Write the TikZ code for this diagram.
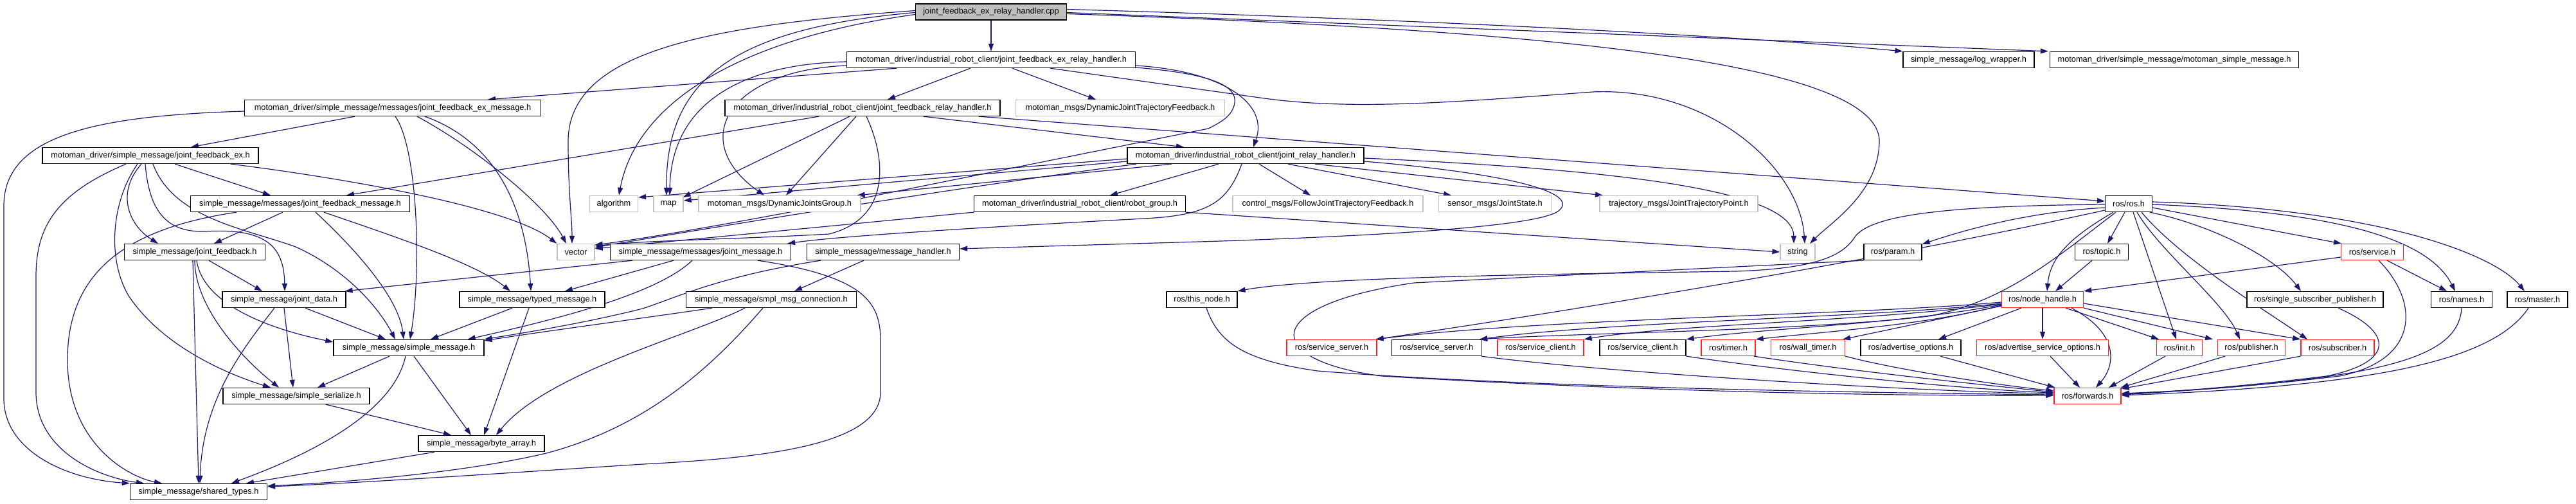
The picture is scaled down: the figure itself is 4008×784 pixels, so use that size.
\documentclass[tikz,border=0pt]{standalone}
\usepackage{fontspec}
\newfontfamily\dfont{Liberation Sans}
\usetikzlibrary{arrows.meta}
\definecolor{edgec}{HTML}{191970}
\definecolor{grayb}{HTML}{BFBFBF}
\definecolor{redb}{HTML}{FF2020}
\pgfdeclarelayer{edges}
\pgfsetlayers{edges,main}
\begin{document}
\begin{tikzpicture}[x=1pt,y=-1pt,
  box/.style={draw=black, line width=1.3pt, fill=white, inner xsep=2pt, inner ysep=0pt,
    minimum height=25pt, font=\dfont\fontsize{12.8pt}{15pt}\selectfont, text=black},
  gbox/.style={box, draw=grayb},
  rbox/.style={box, draw=redb},
  edge/.style={draw=edgec, line width=1.2pt, -{Triangle[length=12pt,width=8pt]}}]
\useasboundingbox (0,0) rectangle (4008,784);
% ---------------- nodes ----------------
\node[box, minimum width=235pt, fill=grayb] (cpp) at (1542,18.5) {joint\_feedback\_ex\_relay\_handler.cpp};
\node[box, minimum width=449pt] (exrh) at (1542,93) {motoman\_driver/industrial\_robot\_client/joint\_feedback\_ex\_relay\_handler.h};
\node[box, minimum width=204pt] (lw) at (3063,93) {simple\_message/log\_wrapper.h};
\node[box, minimum width=387pt] (msm) at (3383,93) {motoman\_driver/simple\_message/motoman\_simple\_message.h};
\node[box, minimum width=461pt] (exmsg) at (611,168) {motoman\_driver/simple\_message/messages/joint\_feedback\_ex\_message.h};
\node[box, minimum width=428pt] (fbrh) at (1342,168) {motoman\_driver/industrial\_robot\_client/joint\_feedback\_relay\_handler.h};
\node[gbox, minimum width=325pt] (djtf) at (1743,168) {motoman\_msgs/DynamicJointTrajectoryFeedback.h};
\node[box, minimum width=336pt] (fbex) at (234,242) {motoman\_driver/simple\_message/joint\_feedback\_ex.h};
\node[box, minimum width=368pt] (jrh) at (1938,242) {motoman\_driver/industrial\_robot\_client/joint\_relay\_handler.h};
\node[box, minimum width=341pt] (fbmsg) at (467,317) {simple\_message/messages/joint\_feedback\_message.h};
\node[gbox, minimum width=75pt] (alg) at (955,317) {algorithm};
\node[gbox, minimum width=46pt] (map) at (1040,317) {map};
\node[gbox, minimum width=252pt] (djg) at (1213,317) {motoman\_msgs/DynamicJointsGroup.h};
\node[box, minimum width=329pt] (rg) at (1680,317) {motoman\_driver/industrial\_robot\_client/robot\_group.h};
\node[gbox, minimum width=296pt] (cmsg) at (2066,317) {control\_msgs/FollowJointTrajectoryFeedback.h};
\node[gbox, minimum width=175pt] (js) at (2326,317) {sensor\_msgs/JointState.h};
\node[gbox, minimum width=246pt] (jtp) at (2612,317) {trajectory\_msgs/JointTrajectoryPoint.h};
\node[box, minimum width=73pt] (ros) at (3312,317) {ros/ros.h};
\node[box, minimum width=219pt] (fb) at (303,392) {simple\_message/joint\_feedback.h};
\node[gbox, minimum width=58pt] (vec) at (896,392) {vector};
\node[box, minimum width=281pt] (jm) at (1090,392) {simple\_message/messages/joint\_message.h};
\node[box, minimum width=237pt] (mh) at (1374,392) {simple\_message/message\_handler.h};
\node[gbox, minimum width=54pt] (str) at (2797,392) {string};
\node[box, minimum width=90pt] (param) at (2945,392) {ros/param.h};
\node[box, minimum width=83pt] (topic) at (3270,392) {ros/topic.h};
\node[rbox, minimum width=97pt] (srv) at (3691,392) {ros/service.h};
\node[box, minimum width=192pt] (jd) at (442,466) {simple\_message/joint\_data.h};
\node[box, minimum width=226pt] (tm) at (828,466) {simple\_message/typed\_message.h};
\node[box, minimum width=265pt] (smc) at (1200,466) {simple\_message/smpl\_msg\_connection.h};
\node[box, minimum width=110pt] (tn) at (1870,466) {ros/this\_node.h};
\node[rbox, minimum width=127pt] (nh) at (3178,466) {ros/node\_handle.h};
\node[box, minimum width=212pt] (ssp) at (3602,466) {ros/single\_subscriber\_publisher.h};
\node[box, minimum width=95pt] (names) at (3830,466) {ros/names.h};
\node[box, minimum width=94pt] (master) at (3948,466) {ros/master.h};
\node[box, minimum width=234pt] (sm) at (636,541) {simple\_message/simple\_message.h};
\node[rbox, minimum width=140pt] (ss1) at (2072,541) {ros/service\_server.h};
\node[box, minimum width=139pt] (ss2) at (2235,541) {ros/service\_server.h};
\node[rbox, minimum width=134pt] (sc1) at (2397,541) {ros/service\_client.h};
\node[box, minimum width=134pt] (sc2) at (2556,541) {ros/service\_client.h};
\node[rbox, minimum width=84pt] (timer) at (2689,541) {ros/timer.h};
\node[rbox, minimum width=115pt] (wt) at (2813,541) {ros/wall\_timer.h};
\node[box, minimum width=156pt] (ao) at (2973,541) {ros/advertise\_options.h};
\node[rbox, minimum width=205pt] (aso) at (3178,541) {ros/advertise\_service\_options.h};
\node[rbox, minimum width=71pt] (init) at (3391,541) {ros/init.h};
\node[rbox, minimum width=105pt] (pub) at (3503,541) {ros/publisher.h};
\node[rbox, minimum width=114pt] (sub) at (3637,541) {ros/subscriber.h};
\node[box, minimum width=228pt] (ser) at (461,616) {simple\_message/simple\_serialize.h};
\node[rbox, minimum width=104pt] (fwd) at (3248,616) {ros/forwards.h};
\node[box, minimum width=196pt] (ba) at (749,690) {simple\_message/byte\_array.h};
\node[box, minimum width=213pt] (st) at (309,765) {simple\_message/shared\_types.h};
% ---------------- edges ----------------
\begin{pgfonlayer}{edges}
\fill[white] (0,0) rectangle (4008,784);
% cpp
\draw[edge] (cpp) -- (exrh);
\draw[edge] ([yshift=2pt]cpp.west) .. controls (1100,40) and (884,80) .. (884,220) .. controls (884,300) and (890,340) .. ([xshift=-6pt]vec.north);
\draw[edge] ([yshift=-4pt]cpp.west) .. controls (1150,60) and (990,160) .. ([xshift=8pt]alg.north);
\draw[edge] ([yshift=-1pt]cpp.west) .. controls (1130,45) and (1036,130) .. ([xshift=-3pt]map.north);
\draw[edge] ([yshift=-3pt]cpp.east) .. controls (2350,45) and (2925,90) .. (2924,220) .. controls (2923,300) and (2850,345) .. ([xshift=19pt]str.north);
\draw[edge] ([yshift=4pt]cpp.east) .. controls (2200,30) and (2700,55) .. (lw.north west);
\draw[edge] ([yshift=-1pt]cpp.east) -- ([xshift=-2pt]msm.north west);
% exrh
\draw[edge] ([xshift=-32pt]exrh.south) -- ([xshift=39pt]fbrh.north);
\draw[edge] ([xshift=33pt]exrh.south) -- ([xshift=-38pt]djtf.north);
\draw[edge] ([xshift=-147pt]exrh.south) -- ([xshift=148pt]exmsg.north);
\draw[edge] ([yshift=-9pt]exrh.east) .. controls (1900,110) and (1975,160) .. ([xshift=12pt]jrh.north);
\draw[edge] ([yshift=-12pt]exrh.east) .. controls (1890,115) and (1925,135) .. (1921,160) .. controls (1918,180) and (1900,190) .. (1880,200) -- (1383,300) .. controls (1200,337) and (1000,372) .. ([yshift=-2pt]vec.north east);
\draw[edge] ([yshift=-3pt]exrh.west) .. controls (1140,100) and (1044,170) .. ([xshift=2pt]map.north);
\draw[edge] ([yshift=-9pt]exrh.west) .. controls (1130,110) and (1070,220) .. ([xshift=-24pt]djg.north);
\draw[edge] ([xshift=92pt]exrh.south) -- (1960,152) .. controls (2100,172) and (2250,160) .. (2478,143) .. controls (2660,135) and (2800,260) .. ([xshift=11pt]str.north);
% fbrh
\draw[edge] ([xshift=-68pt]fbrh.south) -- ([xshift=72pt]fbmsg.north);
\draw[edge] ([xshift=-20pt]fbrh.south) -- ([xshift=-1pt,yshift=-3pt]map.north east);
\draw[edge] ([xshift=-10pt]fbrh.south) -- ([xshift=10pt]djg.north);
\draw[edge] ([xshift=6pt]fbrh.south) .. controls (1380,250) and (1385,340) .. (1290,364) .. controls (1150,372) and (1000,374) .. ([yshift=-4pt]vec.north east);
\draw[edge] ([xshift=95pt]fbrh.south) -- ([xshift=-96pt]jrh.north);
\draw[edge] ([xshift=181pt]fbrh.south) -- ([yshift=4pt]ros.west);
% jrh
\draw[edge] ([yshift=-5pt]jrh.west) -- ([yshift=10pt]alg.east);
\draw[edge] ([yshift=-9pt]jrh.west) -- ([yshift=5pt]map.east);
\draw[edge] ([xshift=-115pt]jrh.south) -- ([xshift=-6pt]djg.north east);
\draw[edge] ([xshift=-170pt]jrh.south) .. controls (1500,290) and (1100,355) .. ([yshift=-6pt]vec.north east);
\draw[edge] ([xshift=-42pt]jrh.south) -- ([xshift=47pt]rg.north);
\draw[edge] ([xshift=21pt]jrh.south) -- ([xshift=-27pt]cmsg.north);
\draw[edge] ([xshift=66pt]jrh.south) -- ([xshift=-68pt]js.north);
\draw[edge] ([xshift=108pt]jrh.south) -- ([xshift=-118pt]jtp.north);
\draw[edge] ([xshift=-6pt]jrh.south) .. controls (1910,315) and (1880,335) .. (1780,340) .. controls (1500,355) and (1300,368) .. ([xshift=-6pt]jm.north east);
\draw[edge] ([yshift=-4pt]jrh.east) .. controls (2550,265) and (2790,300) .. ([xshift=-6pt]str.north);
\draw[edge] ([yshift=-9pt]jrh.east) .. controls (2350,270) and (2460,300) .. (2425,328) .. controls (2390,355) and (2100,368) .. (1900,375) -- ([yshift=5pt]mh.east);
% rg
\draw[edge] (rg.south west) -- ([yshift=-8pt]vec.north east);
\draw[edge] (rg.south east) -- (str.west);
% exmsg
\draw[edge] ([xshift=-59pt]exmsg.south) -- ([xshift=63pt]fbex.north);
\draw[edge] ([xshift=4pt]exmsg.south) .. controls (650,230) and (656,420) .. ([xshift=2pt]sm.north);
\draw[edge] ([xshift=38pt]exmsg.south) .. controls (740,230) and (850,320) .. ([xshift=-15pt]vec.north);
\draw[edge] ([xshift=50pt]exmsg.south) .. controls (770,220) and (818,320) .. ([xshift=-2pt]tm.north);
\draw[edge] ([yshift=-5pt]exmsg.west) .. controls (150,180) and (6,210) .. (6,320) -- (6,620) .. controls (6,700) and (100,745) .. (st.north west);
% fbex
\draw[edge] ([xshift=38pt]fbex.south) -- ([xshift=-46pt]fbmsg.north);
\draw[edge] ([xshift=125pt]fbex.south) .. controls (520,275) and (790,320) .. (vec.north west);
\draw[edge] ([xshift=-38pt]fbex.south) .. controls (90,300) and (56,350) .. (56,430) -- (56,610) .. controls (56,700) and (150,742) .. ([xshift=-85pt]st.north);
\draw[edge] ([xshift=-20pt]fbex.south) .. controls (175,310) and (165,400) .. (200,460) .. controls (260,550) and (380,590) .. ([xshift=-40pt]ser.north);
\draw[edge] ([xshift=-14pt]fbex.south) .. controls (180,300) and (200,350) .. ([xshift=-57pt]fb.north);
\draw[edge] ([xshift=-8pt]fbex.south) .. controls (232,330) and (260,362) .. (320,360) .. controls (410,355) and (442,380) .. ([xshift=1pt]jd.north);
\draw[edge] ([xshift=4pt]fbex.south) .. controls (270,340) and (380,355) .. (460,384) .. controls (540,420) and (590,480) .. ([xshift=-21pt]sm.north);
% fbmsg
\draw[edge] ([xshift=-27pt]fbmsg.south) -- ([xshift=30pt]fb.north);
\draw[edge] ([xshift=-99pt]fbmsg.south) .. controls (200,355) and (105,420) .. (105,560) .. controls (105,690) and (200,742) .. ([xshift=-57pt]st.north);
\draw[edge] ([xshift=24pt]fbmsg.south) .. controls (545,380) and (620,460) .. ([xshift=-8pt]sm.north);
\draw[edge] ([xshift=37pt]fbmsg.south) .. controls (620,370) and (740,410) .. ([xshift=-34pt]tm.north);
% fb
\draw[edge] ([xshift=22pt]fb.south) -- ([xshift=-34pt]jd.north);
\draw[edge] ([xshift=3pt]fb.south) .. controls (315,470) and (410,510) .. ([yshift=9pt]sm.west);
\draw[edge] (fb.south) .. controls (303,480) and (380,560) .. ([xshift=-27pt]ser.north);
\draw[edge] ([xshift=-3pt]fb.south) -- (st.north);
% jd
\draw[edge] ([xshift=33pt]jd.south) -- ([xshift=-36pt]sm.north);
\draw[edge] (jd.south) -- ([xshift=-5pt]ser.north);
\draw[edge] ([xshift=-15pt]jd.south) .. controls (380,540) and (315,620) .. ([xshift=2pt]st.north);
% tm
\draw[edge] ([xshift=-31pt]tm.south) -- ([xshift=34pt]sm.north);
\draw[edge] ([xshift=-5pt]tm.south) -- ([xshift=4pt]ba.north);
% sm, ser, ba
\draw[edge] ([xshift=-30pt]sm.south) -- ([xshift=33pt]ser.north);
\draw[edge] ([xshift=8pt]sm.south) -- ([xshift=-16pt]ba.north);
\draw[edge] ([xshift=-5pt]sm.south) .. controls (610,650) and (460,715) .. ([xshift=51pt]st.north);
\draw[edge] ([xshift=46pt]ser.south) -- ([xshift=-47pt]ba.north);
\draw[edge] ([xshift=-73pt]ba.south) -- ([xshift=74pt]st.north);
% jm
\draw[edge] ([xshift=-106pt]jm.south) -- ([xshift=-2pt]jd.north east);
\draw[edge] ([xshift=-42pt]jm.south) -- ([xshift=51pt]tm.north);
\draw[edge] ([xshift=-13pt]jm.south) .. controls (1020,460) and (850,500) .. ([xshift=-26pt]sm.north east);
\draw[edge] ([xshift=89pt]jm.south) .. controls (1345,430) and (1370,470) .. (1370,530) -- (1370,610) .. controls (1370,690) and (1200,712) .. (1000,722) .. controls (800,735) and (550,752) .. ([yshift=8pt]st.east);
% mh
\draw[edge] ([xshift=-97pt]mh.south) .. controls (1120,430) and (1060,460) .. (1000,480) .. controls (900,505) and (800,520) .. (sm.north east);
\draw[edge] ([xshift=-30pt]mh.south) -- ([xshift=36pt]smc.north);
% smc
\draw[edge] ([xshift=-92pt]smc.south) .. controls (1000,495) and (850,515) .. ([yshift=-2pt]sm.north east);
\draw[edge] ([xshift=-41pt]smc.south) .. controls (1080,520) and (850,580) .. ([xshift=23pt]ba.north);
\draw[edge] ([xshift=-13pt]smc.south) .. controls (1100,580) and (1000,665) .. (850,705) .. controls (700,740) and (500,752) .. ([yshift=9pt]st.east);
% ros
\draw[edge] ([yshift=-6pt]ros.west) .. controls (3150,330) and (3050,360) .. ([yshift=-1pt]param.north east);
\draw[edge] ([xshift=-6pt]ros.south) -- ([xshift=9pt]topic.north);
\draw[edge] ([xshift=-24pt]ros.south) .. controls (3220,370) and (3190,400) .. ([xshift=7pt]nh.north);
\draw[edge] ([xshift=7pt]ros.south) -- ([xshift=-5pt]init.north);
\draw[edge] ([xshift=13pt]ros.south) .. controls (3360,390) and (3460,470) .. ([xshift=-18pt]pub.north);
\draw[edge] ([xshift=20pt]ros.south) .. controls (3390,400) and (3520,480) .. ([xshift=-47pt]sub.north);
\draw[edge] ([xshift=33pt]ros.south) .. controls (3440,350) and (3540,400) .. ([xshift=-22pt]ssp.north);
\draw[edge] ([yshift=-6pt]ros.east) -- ([xshift=-48pt]srv.north);
\draw[edge] ([yshift=-1pt]ros.east) .. controls (3650,330) and (3780,375) .. ([xshift=-10pt]names.north);
\draw[edge] ([yshift=3pt]ros.east) .. controls (3700,325) and (3880,395) .. ([xshift=-20pt]master.north);
\draw[edge] ([yshift=-1pt]ros.west) .. controls (3060,320) and (2910,330) .. (2885,370) .. controls (2865,400) and (2820,418) .. (2700,422) .. controls (2450,426) and (2050,430) .. (tn.north east);
\draw[edge] ([yshift=-10pt]ros.west) .. controls (2900,410) and (2400,490) .. ([xshift=-2pt]ss1.north east);
\draw[edge] ([xshift=-20pt]ros.south) .. controls (3200,400) and (3120,470) .. (3000,492) .. controls (2800,515) and (2450,518) .. ([xshift=-3pt]ss2.north east);
% nh
\draw[edge] ([yshift=-4pt]nh.west) .. controls (2900,490) and (2400,495) .. ([xshift=-2pt]ss1.north east);
\draw[edge] ([yshift=-6pt]nh.west) .. controls (2900,495) and (2500,500) .. ([xshift=-3pt]ss2.north east);
\draw[edge] ([yshift=-7pt]nh.west) .. controls (2900,500) and (2600,505) .. (sc1.north east);
\draw[edge] ([yshift=-8pt]nh.west) .. controls (2950,505) and (2750,510) .. (sc2.north east);
\draw[edge] ([yshift=-9pt]nh.west) .. controls (3000,505) and (2850,515) .. (timer.north east);
\draw[edge] ([yshift=-10pt]nh.west) -- ([xshift=-4pt]wt.north east);
\draw[edge] ([xshift=-33pt]nh.south) -- ([xshift=43pt]ao.north);
\draw[edge] (nh) -- (aso);
\draw[edge] ([xshift=36pt]nh.south) -- ([xshift=-32pt]init.north);
\draw[edge] (nh.south east) -- ([xshift=-60pt]pub.north);
\draw[edge] ([yshift=-6pt]nh.east) -- (sub.north west);
\draw[edge] ([xshift=45pt]nh.south) .. controls (3300,520) and (3290,570) .. ([xshift=13pt]fwd.north);
\draw[edge] ([xshift=-15pt]topic.south) -- ([xshift=20pt]nh.north);
\draw[edge] ([yshift=-8pt]srv.west) -- (nh.north east);
\draw[edge] ([xshift=23pt]srv.south) -- ([xshift=-23pt]names.north);
\draw[edge] ([xshift=10pt]srv.south) .. controls (3765,470) and (3765,560) .. (3640,585) .. controls (3500,602) and (3400,608) .. ([yshift=4pt]fwd.east);
% into forwards
\draw[edge] ([xshift=36pt]ssp.south) .. controls (3730,520) and (3720,565) .. (3620,585) .. controls (3500,600) and (3400,608) .. ([yshift=3pt]fwd.east);
\draw[edge] (names.south) .. controls (3825,560) and (3700,590) .. ([yshift=2pt]fwd.east);
\draw[edge] ([xshift=-14pt]master.south) .. controls (3880,560) and (3700,600) .. ([yshift=1pt]fwd.east);
\draw[edge] ([xshift=-22pt]init.south) -- ([xshift=33pt]fwd.north);
\draw[edge] ([xshift=-41pt]pub.south) -- ([xshift=-1pt]fwd.north east);
\draw[edge] (sub.south west) -- ([yshift=-2pt]fwd.north east);
\draw[edge] ([xshift=12pt]aso.south) -- ([xshift=-12pt]fwd.north);
\draw[edge] ([xshift=46pt]ao.south) -- ([xshift=2pt]fwd.north west);
\draw[edge] (wt.south east) .. controls (2950,575) and (3100,598) .. ([yshift=8pt]fwd.west);
\draw[edge] ([xshift=40pt]timer.south) .. controls (2900,580) and (3100,600) .. ([yshift=6pt]fwd.west);
\draw[edge] (sc2.south east) .. controls (2800,580) and (3050,605) .. ([yshift=5pt]fwd.west);
\draw[edge] (ss2.south east) .. controls (2500,580) and (3000,610) .. ([yshift=4pt]fwd.west);
\draw[edge] ([xshift=7pt]tn.south) .. controls (1895,530) and (1930,560) .. (2050,577) .. controls (2400,605) and (3000,612) .. ([yshift=2pt]fwd.west);
\draw[edge] (param.south west) -- (2200,440) .. controls (1960,475) and (1960,560) .. (2150,585) .. controls (2600,612) and (3000,616) .. ([yshift=1pt]fwd.west);
\end{pgfonlayer}
\end{tikzpicture}
\end{document}
